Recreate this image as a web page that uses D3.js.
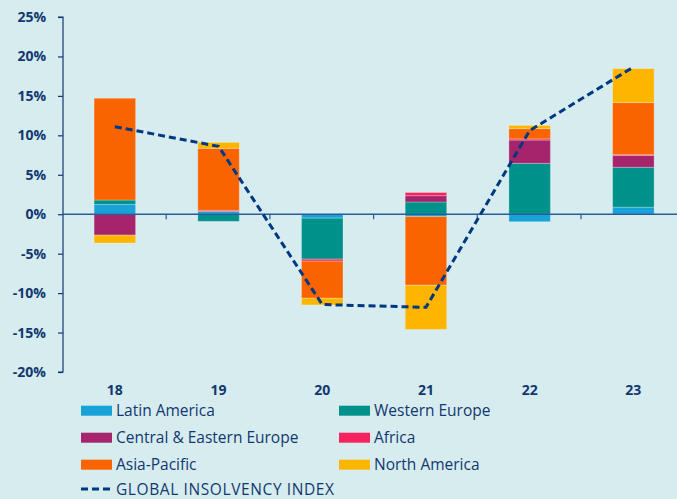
<!DOCTYPE html>
<html>
<head>
<meta charset="utf-8">
<script src="https://cdn.jsdelivr.net/npm/d3@7"></script>
<style>
  html, body { margin: 0; padding: 0; background: #d6ecef; }
  svg { display: block; font-family: "Open Sans", sans-serif; }
</style>
</head>
<body>
<svg id="chart" width="677" height="499"></svg>
<script>
  // years on the x axis
  var years = ['18', '19', '20', '21', '22', '23'];

  // contribution of each region, in % points
  var latinAmerica   = [1.25, 0.35, -0.5, -0.3, -0.95, 0.9];
  var westernEurope  = [0.55, -0.9, -5.2, 1.55, 6.45, 5.05];
  var centralEastern = [-2.65, 0, 0, 0.8, 2.95, 1.5];
  var africa         = [0, 0.15, -0.25, 0.4, 0.15, 0.1];
  var asiaPacific    = [12.9, 7.85, -4.7, -8.7, 1.3, 6.6];
  var northAmerica   = [-1.0, 0.75, -0.85, -5.6, 0.4, 4.3];

  // global insolvency index, yearly change in %
  var globalIndex = [11.1, 8.6, -11.45, -11.8, 10.6, 18.65];

  var yTicks = [25, 20, 15, 10, 5, 0, -5, -10, -15, -20];

  var series = [
    { name: 'Latin America', values: latinAmerica, color: '#17a3d8' },
    { name: 'Western Europe', values: westernEurope, color: '#00918b' },
    { name: 'Central & Eastern Europe', values: centralEastern, color: '#a6246b' },
    { name: 'Africa', values: africa, color: '#f5245e' },
    { name: 'Asia-Pacific', values: asiaPacific, color: '#f96400' },
    { name: 'North America', values: northAmerica, color: '#fdb500' }
  ];

  var navy = '#12386f';
  var svg = d3.select('#chart');

  var x = d3.scaleBand()
    .domain(years)
    .range([63, 685.2])
    .paddingInner(0.6)
    .paddingOuter(0.3);

  var y = d3.scaleLinear()
    .domain([-20, 25])
    .range([372, 17]);

  // stack positives up and negatives down
  var rects = [];
  years.forEach(function(yr, i) {
    var pos = 0, neg = 0;
    series.forEach(function(s) {
      var v = s.values[i];
      if (v === 0) return;
      if (v > 0) { rects.push({ yr: yr, y0: pos, y1: pos + v, color: s.color }); pos += v; }
      else { rects.push({ yr: yr, y0: neg + v, y1: neg, color: s.color }); neg += v; }
    });
  });

  svg.append('g')
    .selectAll('rect')
    .data(rects)
    .enter().append('rect')
    .attr('x', function(d) { return x(d.yr); })
    .attr('width', x.bandwidth())
    .attr('y', function(d) { return y(d.y1); })
    .attr('height', function(d) { return y(d.y0) - y(d.y1); })
    .attr('fill', function(d) { return d.color; })
    .attr('stroke', 'rgba(255,255,255,0.25)')
    .attr('stroke-width', 1);

  // y axis
  var yAxis = svg.append('g')
    .attr('transform', 'translate(63,0)')
    .call(d3.axisLeft(y).tickValues(yTicks).tickSize(5).tickPadding(12)
      .tickFormat(function(d) { return d + '%'; }));
  yAxis.selectAll('path, line').attr('stroke', navy).attr('stroke-width', 1.2);
  yAxis.select('.domain').attr('d', 'M-5,17H0V372H-5');
  yAxis.selectAll('text')
    .attr('fill', navy)
    .style('font-size', '14px')
    .style('font-weight', '700')
    .style('font-family', '"Open Sans", sans-serif');

  // zero line with small ticks between the years
  svg.append('line')
    .attr('x1', 63).attr('x2', 677)
    .attr('y1', y(0)).attr('y2', y(0))
    .attr('stroke', '#2a5b9c').attr('stroke-width', 1.5);

  svg.append('g')
    .selectAll('line')
    .data(years.slice(1))
    .enter().append('line')
    .attr('x1', function(d) { return x(d) - x.step() * x.paddingInner() / 2 - 0.5; })
    .attr('x2', function(d) { return x(d) - x.step() * x.paddingInner() / 2 - 0.5; })
    .attr('y1', y(0))
    .attr('y2', y(0) + 5)
    .attr('stroke', '#2a5b9c')
    .attr('stroke-width', 1.2);

  svg.append('g')
    .selectAll('text')
    .data(years)
    .enter().append('text')
    .attr('x', function(d) { return x(d) + x.bandwidth() / 2; })
    .attr('y', 395)
    .attr('text-anchor', 'middle')
    .attr('fill', navy)
    .style('font-size', '14px')
    .style('font-weight', '700')
    .text(function(d) { return d; });

  // global index line
  var line = d3.line()
    .x(function(d, i) { return x(years[i]) + x.bandwidth() / 2; })
    .y(function(d) { return y(d); });

  svg.append('path')
    .datum(globalIndex)
    .attr('d', line)
    .attr('fill', 'none')
    .attr('stroke', '#003781')
    .attr('stroke-width', 3)
    .attr('stroke-dasharray', '7,4');

  // legend
  var legend = svg.append('g');
  var items = legend.selectAll('g')
    .data(series)
    .enter().append('g')
    .attr('transform', function(d, i) {
      return 'translate(' + (i % 2 === 0 ? 81 : 339) + ',' + (410.7 + Math.floor(i / 2) * 27) + ')';
    });

  items.append('rect')
    .attr('x', 0).attr('y', -5)
    .attr('width', 31).attr('height', 10)
    .attr('fill', function(d) { return d.color; });

  items.append('text')
    .attr('x', 35).attr('y', 5.5)
    .attr('fill', navy)
    .style('font-size', '15.5px')
    .style('font-weight', '500')
    .text(function(d) { return d.name; });

  var idx = legend.append('g').attr('transform', 'translate(81,489)');
  idx.append('line')
    .attr('x1', 0).attr('x2', 30)
    .attr('stroke', '#003781').attr('stroke-width', 3)
    .attr('stroke-dasharray', '7,4');
  idx.append('text')
    .attr('x', 35).attr('y', 5.5)
    .attr('fill', navy)
    .style('font-size', '15.5px')
    .style('font-weight', '500')
    .style('letter-spacing', '0.6px')
    .text('GLOBAL INSOLVENCY INDEX');
</script>
</body>
</html>
